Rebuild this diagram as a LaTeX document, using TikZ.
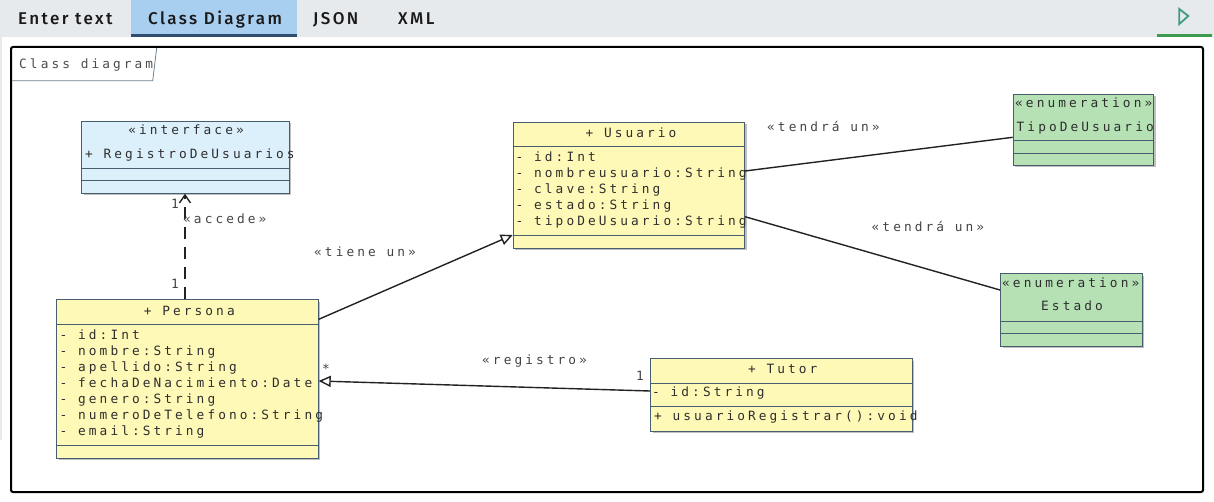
\documentclass[tikz,border=0pt]{standalone}
\usepackage{fontspec}
\usetikzlibrary{calc,arrows.meta,shadows}

\newfontfamily\umlfont[LetterSpace=24]{DejaVu Sans Mono}
\newfontfamily\tabfont[LetterSpace=14, UprightFont={* Medium}]{Fira Sans}

\definecolor{tabbg}{HTML}{E6EAED}
\definecolor{tabactive}{HTML}{A8CEF0}
\definecolor{tabline}{HTML}{2E4D6F}
\definecolor{runline}{HTML}{3D9B4F}
\definecolor{runicon}{HTML}{3E9C82}
\definecolor{umlborder}{HTML}{465E70}
\definecolor{classfill}{HTML}{FFF9B8}
\definecolor{ifacefill}{HTML}{DCF0FB}
\definecolor{enumfill}{HTML}{B6E1B5}
\definecolor{umltext}{HTML}{2E2E2E}
\definecolor{labeltext}{HTML}{444444}
\definecolor{edgecol}{HTML}{222222}

\tikzset{
  umltxt/.style={inner sep=0pt, text=umltext, font=\umlfont\fontsize{12.8}{16}\selectfont},
  edgelabel/.style={umltxt, text=labeltext},
  tabtxt/.style={inner sep=0pt, anchor=base west, text=black!90, font=\tabfont\fontsize{17}{20}\selectfont},
  classbox/.style={draw=umlborder, line width=1pt, rectangle, inner sep=0pt,
    anchor=north west, fill=classfill,
    drop shadow={shadow xshift=2pt, shadow yshift=-2pt, fill=black, opacity=0.25}},
  sepline/.style={draw=umlborder, line width=1pt},
  edge/.style={draw=edgecol, line width=1.4pt},
  realize/.style={edge, -{Triangle[open, length=12pt, width=11pt, fill=white]}},
  depend/.style={edge, dash pattern=on 12pt off 8pt, -{Straight Barb[length=8pt, width=11pt]}},
}

\begin{document}
\begin{tikzpicture}[x=1pt, y=-1pt]
\useasboundingbox (0,0) rectangle (1214,502);

% tab bar
\fill[tabbg] (0,0) rectangle (1214,37);
\fill[tabbg] (0,37) rectangle (2,440);
\fill[tabactive] (131,0) rectangle (297,34.5);
\fill[tabline] (131,34) rectangle (297,37.5);
\fill[runline] (1157,34) rectangle (1212,37);
\draw[runicon, line width=1.8pt, line join=miter] (1179.3,9) -- (1188.3,16) -- (1179.3,24) -- cycle;
\node[tabtxt] (tab-text) at (18,25) {Enter text};
\node[tabtxt] (tab-class) at (148,25) {Class Diagram};
\node[tabtxt] (tab-json) at (313,25) {JSON};
\node[tabtxt] (tab-xml) at (398,25) {XML};

% diagram frame and its name tag
\draw[black, line width=2pt, rounded corners=2pt] (11,47) rectangle (1203,492);
\draw[umlborder!80, line width=0.8pt] (12,80.7) -- (152.7,80.7) -- (156.7,48);
\node[umltxt, text=black!70, anchor=base west] (frame-name) at (19,68.3) {Class diagram};

% interface RegistroDeUsuarios
\node[classbox, fill=ifacefill, minimum width=207.7pt, minimum height=71.7pt] (iface) at (81,121) {};
\draw[sepline] ($(iface.north west)+(0,47.3)$) -- ($(iface.north east)+(0,47.3)$);
\draw[sepline] ($(iface.north west)+(0,59.7)$) -- ($(iface.north east)+(0,59.7)$);
\node[umltxt, anchor=base] (iface-st) at (186,135) {«interface»};
\node[umltxt, anchor=base west] (iface-name) at (85,158.5) {+ RegistroDeUsuarios};

% class Usuario
\node[classbox, minimum width=231.3pt, minimum height=126pt] (usuario) at (512.7,121.8) {};
\draw[sepline] ($(usuario.north west)+(0,25)$) -- ($(usuario.north east)+(0,25)$);
\draw[sepline] ($(usuario.north west)+(0,114)$) -- ($(usuario.north east)+(0,114)$);
\node[umltxt, anchor=base] (usuario-name) at (631,137.3) {+ Usuario};
\node[umltxt, anchor=base west] (usuario-a1) at (515.5,161.7) {- id:Int};
\node[umltxt, anchor=base west] (usuario-a2) at (515.5,177.7) {- nombreusuario:String};
\node[umltxt, anchor=base west] (usuario-a3) at (515.5,193.7) {- clave:String};
\node[umltxt, anchor=base west] (usuario-a4) at (515.5,209.7) {- estado:String};
\node[umltxt, anchor=base west] (usuario-a5) at (515.5,225.7) {- tipoDeUsuario:String};

% enumeration TipoDeUsuario
\node[classbox, fill=enumfill, minimum width=140.6pt, minimum height=71pt] (tipo) at (1012.7,94) {};
\draw[sepline] ($(tipo.north west)+(0,46.7)$) -- ($(tipo.north east)+(0,46.7)$);
\draw[sepline] ($(tipo.north west)+(0,59.3)$) -- ($(tipo.north east)+(0,59.3)$);
\node[umltxt, anchor=base west] (tipo-st) at (1015,107.7) {«enumeration»};
\node[umltxt, anchor=base west] (tipo-name) at (1016.5,131.7) {TipoDeUsuario};

% enumeration Estado
\node[classbox, fill=enumfill, minimum width=141.7pt, minimum height=72.4pt] (estado) at (1000,273.3) {};
\draw[sepline] ($(estado.north west)+(0,47.7)$) -- ($(estado.north east)+(0,47.7)$);
\draw[sepline] ($(estado.north west)+(0,60)$) -- ($(estado.north east)+(0,60)$);
\node[umltxt, anchor=base west] (estado-st) at (1002,287.3) {«enumeration»};
\node[umltxt, anchor=base] (estado-name) at (1072,310.7) {Estado};

% class Persona
\node[classbox, minimum width=261.7pt, minimum height=158.4pt] (persona) at (56,299.3) {};
\draw[sepline] ($(persona.north west)+(0,24.7)$) -- ($(persona.north east)+(0,24.7)$);
\draw[sepline] ($(persona.north west)+(0,146.4)$) -- ($(persona.north east)+(0,146.4)$);
\node[umltxt, anchor=base] (persona-name) at (189.3,315) {+ Persona};
\node[umltxt, anchor=base west] (persona-a1) at (59.5,339) {- id:Int};
\node[umltxt, anchor=base west] (persona-a2) at (59.5,355) {- nombre:String};
\node[umltxt, anchor=base west] (persona-a3) at (59.5,371) {- apellido:String};
\node[umltxt, anchor=base west] (persona-a4) at (59.5,387) {- fechaDeNacimiento:Date};
\node[umltxt, anchor=base west] (persona-a5) at (59.5,403) {- genero:String};
\node[umltxt, anchor=base west] (persona-a6) at (59.5,419.3) {- numeroDeTelefono:String};
\node[umltxt, anchor=base west] (persona-a7) at (59.5,435.5) {- email:String};

% class Tutor
\node[classbox, minimum width=261.7pt, minimum height=72.4pt] (tutor) at (650,358.3) {};
\draw[sepline] ($(tutor.north west)+(0,25)$) -- ($(tutor.north east)+(0,25)$);
\draw[sepline] ($(tutor.north west)+(0,48.4)$) -- ($(tutor.north east)+(0,48.4)$);
\node[umltxt, anchor=base] (tutor-name) at (782.7,373.3) {+ Tutor};
\node[umltxt, anchor=base west] (tutor-a1) at (652,396.7) {- id:String};
\node[umltxt, anchor=base west] (tutor-m1) at (654,420.7) {+ usuarioRegistrar():void};

% connector end points on the class borders
\coordinate (persona-top) at ($(persona.north west)+(129,0)$);
\coordinate (iface-bottom) at ($(iface.south west)+(104,0)$);
\coordinate (persona-east1) at ($(persona.north east)+(0,20)$);
\coordinate (usuario-west) at ($(usuario.north west)+(0,113.2)$);
\coordinate (usuario-east1) at ($(usuario.north east)+(0,49.2)$);
\coordinate (usuario-east2) at ($(usuario.north east)+(0,94.9)$);
\coordinate (tipo-west) at ($(tipo.north west)+(0,43.3)$);
\coordinate (estado-west) at ($(estado.north west)+(0,16.7)$);
\coordinate (tutor-west) at ($(tutor.north west)+(0,32.7)$);
\coordinate (persona-east2) at ($(persona.north east)+(0,81.7)$);

% connectors
\draw[depend] (persona-top) -- (iface-bottom);
\draw[realize] (persona-east1) -- (usuario-west);
\draw[edge] (usuario-east1) -- (tipo-west);
\draw[edge] (usuario-east2) -- (estado-west);
\draw[realize] (tutor-west) -- (persona-east2);

% connector labels
\node[edgelabel, anchor=base] (m-iface) at (175,209) {1};
\node[edgelabel, anchor=base] (m-persona) at (175,288.5) {1};
\node[edgelabel, anchor=base west] (l-accede) at (183,224) {«accede»};
\node[edgelabel, anchor=base west] (l-tiene) at (314,257) {«tiene un»};
\node[edgelabel, anchor=base west] (l-tendra1) at (767,131.7) {«tendrá un»};
\node[edgelabel, anchor=base west] (l-tendra2) at (871.5,231.7) {«tendrá un»};
\node[edgelabel, anchor=base west] (l-registro) at (482,364) {«registro»};
\node[edgelabel, anchor=base] (m-tutor) at (640,380.5) {1};
\node[edgelabel, anchor=base] (m-many) at (326,373) {*};
\end{tikzpicture}
\end{document}
